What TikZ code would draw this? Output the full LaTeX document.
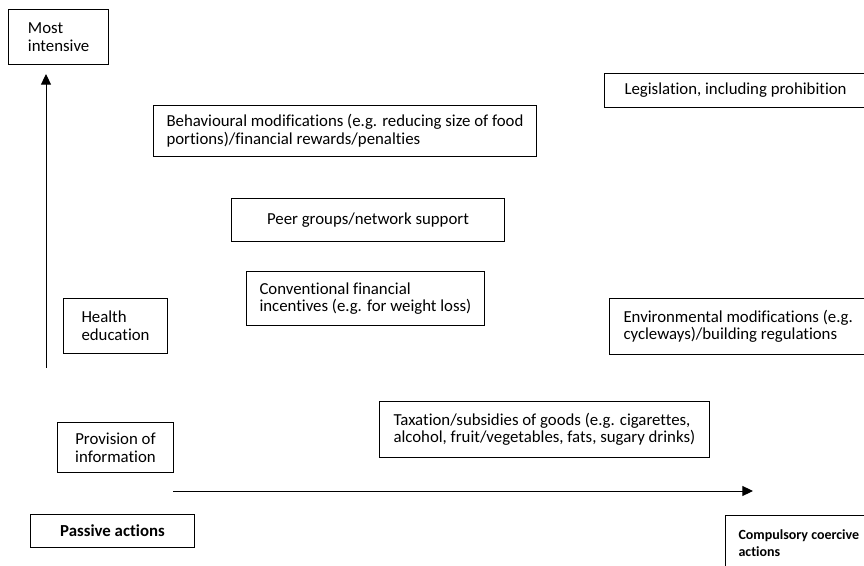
\documentclass[tikz,border=0pt]{standalone}
\usepackage{fontspec}
\setmainfont{Carlito}[Ligatures=NoCommon]
\usetikzlibrary{arrows.meta}

\begin{document}
\begin{tikzpicture}[x=0.75pt, y=-0.75pt,
		box/.style={draw, line width=0.75pt, anchor=north west, align=left, font=\fontsize{12.6}{13.2}\selectfont},
		axis/.style={line width=0.75pt, -{Triangle[length=8pt, width=7.5pt]}}]
		\useasboundingbox (0,0) rectangle (864,566);
		\clip (0,0) rectangle (864,566);
		\node[box, inner xsep=14.6pt, minimum height=41.25pt] (most) at (8,9) {Most\\intensive};
		\node[box, inner xsep=15pt, minimum height=25.5pt] (legis) at (604,73) {Legislation, including prohibition};
		\node[box, inner xsep=9.75pt, minimum height=38.25pt] (behav) at (153,105) {Behavioural modifications (e.g. reducing size of food\\portions)/financial rewards/penalties};
		\node[box, align=center, minimum width=204.75pt, minimum height=32.25pt] (peer) at (231,198) {Peer groups/network support};
		\node[box, inner xsep=9.75pt, minimum height=40.5pt] (conv) at (246,271) {Conventional financial\\incentives (e.g. for weight loss)};
		\node[box, inner xsep=13.5pt, minimum height=41.25pt] (health) at (63,298) {Health\\education};
		\node[box, inner xsep=10.5pt, minimum height=42pt] (envir) at (609,298) {Environmental modifications (e.g.\\cycleways)/building regulations};
		\node[box, inner xsep=10.5pt, minimum height=42pt] (tax) at (379,401) {Taxation/subsidies of goods (e.g. cigarettes,\\alcohol, fruit/vegetables, fats, sugary drinks)};
		\node[box, align=center, minimum width=87pt, minimum height=37.5pt] (prov) at (57,422) {Provision of\\information};
		\node[box, align=center, minimum width=123pt, minimum height=24.75pt] (passive) at (30,514) {\textbf{Passive actions}};
		\node[box, inner xsep=9.75pt, minimum height=41.25pt, font=\fontsize{10.5}{13.2}\selectfont\bfseries] (compul) at (725,515) {Compulsory coercive\\actions};
		\coordinate (vbot) at (46,368);
		\coordinate (vtop) at (46,74);
		\draw[axis] (vbot) -- (vtop);
		\coordinate (hleft) at (173,491);
		\coordinate (hright) at (753,491);
		\draw[axis] (hleft) -- (hright);
	\end{tikzpicture}
\end{document}
